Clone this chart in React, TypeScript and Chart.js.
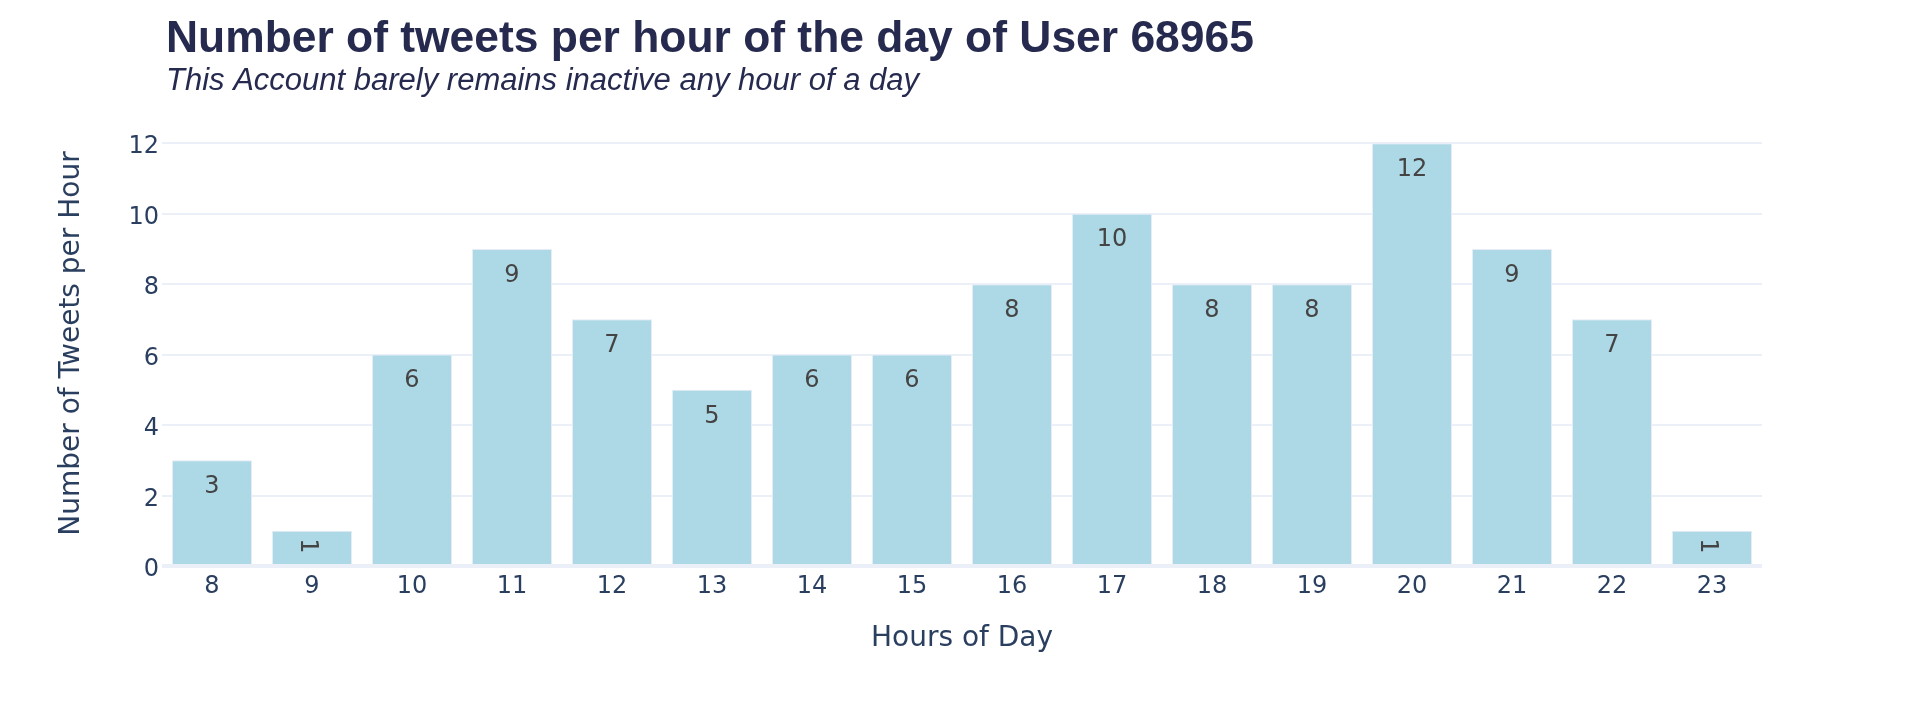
import React, { useEffect, useRef } from "react";
import { Chart, registerables } from "chart.js";

Chart.register(...registerables);

const HOURS = ["8", "9", "10", "11", "12", "13", "14", "15", "16", "17", "18", "19", "20", "21", "22", "23"];
const TWEETS = [3, 1, 6, 9, 7, 5, 6, 6, 8, 10, 8, 8, 12, 9, 7, 1];
const Y_TICKS = [0, 2, 4, 6, 8, 10, 12];
const Y_MAX = 12.63;
const TITLE = "Number of tweets per hour of the day of User 68965";
const SUBTITLE = "This Account barely remains inactive any hour of a day";
const X_TITLE = "Hours of Day";
const Y_TITLE = "Number of Tweets per Hour";

const AXIS_FONT = "'DejaVu Sans', Verdana, sans-serif";
const TITLE_FONT = "'Liberation Sans', Arial, sans-serif";
const TEXT_COLOR = "#2a3f5f";
const TITLE_COLOR = "#262a4f";
const GRID_COLOR = "#ebf0f8";
const BAR_COLOR = "#add8e6";
const LABEL_COLOR = "#444444";

const titlePlugin = {
  id: "titlePlugin",
  afterDraw(chart: any) {
    const { ctx, chartArea } = chart;
    ctx.save();
    ctx.fillStyle = TITLE_COLOR;
    ctx.textAlign = "left";
    ctx.textBaseline = "alphabetic";
    ctx.font = `bold 44.4px ${TITLE_FONT}`;
    ctx.fillText(TITLE, chartArea.left + 4, 52);
    ctx.font = `italic 31px ${TITLE_FONT}`;
    ctx.fillText(SUBTITLE, chartArea.left + 4, 90);
    ctx.restore();
  },
};

const barLabelPlugin = {
  id: "barLabelPlugin",
  afterDatasetsDraw(chart: any) {
    const { ctx } = chart;
    const meta = chart.getDatasetMeta(0);
    const fontSize = 24;
    ctx.save();
    ctx.fillStyle = LABEL_COLOR;
    ctx.font = `${fontSize}px ${AXIS_FONT}`;
    ctx.textAlign = "center";
    ctx.textBaseline = "alphabetic";
    const digitHalf = fontSize * 0.365;
    meta.data.forEach((bar: any, i: number) => {
      const text = String(TWEETS[i]);
      const h = bar.base - bar.y;
      if (h < 40) {
        ctx.save();
        ctx.translate(bar.x - 2, bar.y + 15);
        ctx.rotate(Math.PI / 2);
        ctx.fillText(text, 0, digitHalf);
        ctx.restore();
      } else {
        ctx.fillText(text, bar.x, bar.y + 24 + digitHalf);
      }
    });
    ctx.restore();
  },
};

export default function App() {
  const canvasRef = useRef<HTMLCanvasElement | null>(null);

  useEffect(() => {
    if (!canvasRef.current) return;
    const chart = new Chart(canvasRef.current, {
      type: "bar",
      data: {
        labels: HOURS,
        datasets: [
          {
            data: TWEETS,
            backgroundColor: BAR_COLOR,
            borderColor: "#e5ecf6",
            borderWidth: 1,
            barPercentage: 0.8,
            categoryPercentage: 1,
          },
        ],
      },
      options: {
        responsive: false,
        animation: false,
        devicePixelRatio: 1,
        layout: { padding: { left: 0, right: 158, top: 121, bottom: 0 } },
        plugins: {
          legend: { display: false },
          tooltip: { enabled: false },
          title: { display: false },
        },
        scales: {
          x: {
            grid: { display: false },
            border: { display: false },
            ticks: {
              color: TEXT_COLOR,
              font: { family: AXIS_FONT, size: 24 },
              padding: -2,
              maxRotation: 0,
            },
            title: {
              display: true,
              text: X_TITLE,
              color: TEXT_COLOR,
              font: { family: AXIS_FONT, size: 28 },
              padding: { top: 0, bottom: 72 },
            },
            afterFit(scale: any) {
              scale.height = 162;
            },
          },
          y: {
            min: 0,
            max: Y_MAX,
            border: { display: false },
            grid: {
              color: GRID_COLOR,
              lineWidth: (c: any) => (c.tick && c.tick.value === 0 ? 4 : 2),
              drawTicks: false,
            },
            ticks: {
              color: TEXT_COLOR,
              font: { family: AXIS_FONT, size: 24 },
              padding: 3,
              labelOffset: 4,
            },
            afterBuildTicks(scale: any) {
              scale.ticks = Y_TICKS.map((v) => ({ value: v }));
            },
            title: {
              display: true,
              text: Y_TITLE,
              color: TEXT_COLOR,
              font: { family: AXIS_FONT, size: 28 },
              padding: { top: 55, bottom: 0 },
            },
            afterFit(scale: any) {
              scale.width = 162;
            },
          },
        },
      },
      plugins: [titlePlugin, barLabelPlugin],
    });
    return () => chart.destroy();
  }, []);

  return (
    <div style={{ position: "absolute", left: 0, top: 0, width: 1920, height: 728, background: "#fff" }}>
      <canvas ref={canvasRef} width={1920} height={728} style={{ width: 1920, height: 728, display: "block" }} />
    </div>
  );
}
